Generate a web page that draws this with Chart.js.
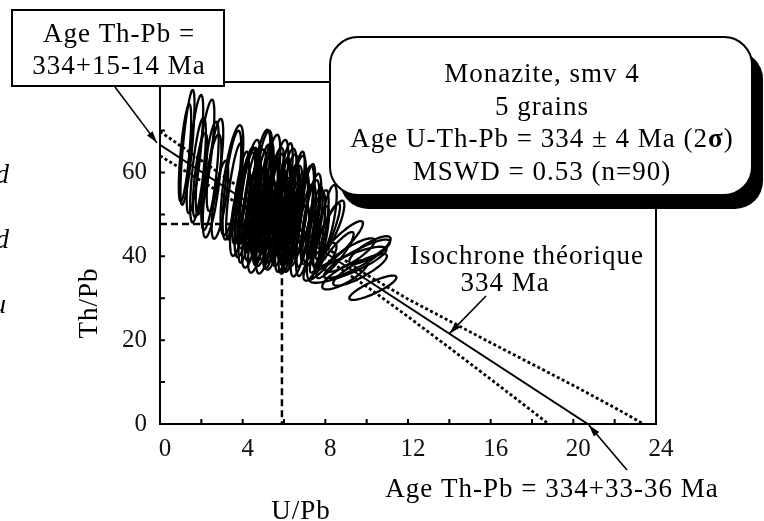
<!DOCTYPE html>
<html lang="fr">
<head>
<meta charset="UTF-8">
<title>Monazite smv 4 - Th/Pb vs U/Pb</title>
<script src="https://cdn.jsdelivr.net/npm/chart.js"></script>
<style>
    body { margin: 0; background: #fff; }
    #wrap { width: 764px; height: 521px; }
</style>
</head>
<body>
<div id="wrap"><canvas id="iso" width="764" height="521"></canvas></div>
<script>
// spot analyses: centre of each 2 sigma ellipse, half widths and correlation
const grainU = [
    1.33, 1.69, 2.18, 1.84, 2.42, 3.48, 4.16, 2.52, 1.21, 2.90, 1.94, 2.66,
    3.48, 4.93, 5.32, 6.19, 7.06, 7.55, 4.11, 4.98, 6.29, 6.43, 7.35, 8.13,
    4.35, 4.64, 4.93, 5.22, 5.52, 5.81, 6.10, 6.39, 6.68, 6.97, 4.60, 5.08,
    5.56, 6.05, 4.84, 4.26, 5.32, 5.90, 6.58, 7.26, 3.87, 4.45, 5.13, 6.77,
    7.74, 5.71, 6.19, 4.74,
    4.50, 4.80, 5.00, 5.30, 5.50, 5.70, 5.90, 6.10, 6.30, 6.50, 6.80, 7.00,
    4.20, 4.40, 5.10, 5.60, 6.00, 6.60, 7.10, 7.50, 3.90, 4.90, 5.40, 6.40,
    7.80, 3.60,
    7.98, 8.71, 9.53, 9.10, 10.30, 10.16, 9.19, 8.47, 8.22, 9.68, 8.95, 7.74
];
const grainTh = [
    66.0, 64.4, 63.7, 60.6, 59.2, 58.2, 54.4, 56.8, 64.7, 53.5, 59.4, 61.8,
    57.0, 57.0, 56.3, 52.3, 46.3, 44.9, 52.3, 51.6, 49.2, 47.3, 49.2, 49.0,
    55.8, 53.5, 54.7, 52.3, 53.9, 51.1, 54.7, 50.6, 48.2, 51.1, 49.9, 48.2,
    46.8, 45.8, 58.2, 53.9, 49.9, 48.2, 53.5, 48.2, 51.1, 46.8, 44.4, 43.7,
    46.8, 55.8, 43.9, 45.1,
    52.0, 50.5, 53.0, 51.0, 48.5, 50.0, 52.5, 49.0, 51.5, 47.5, 49.5, 47.0,
    49.0, 54.5, 56.0, 54.0, 56.5, 55.0, 52.5, 48.0, 54.0, 47.0, 45.5, 45.0,
    44.5, 55.5,
    44.4, 43.0, 39.4, 38.0, 32.5, 41.5, 40.3, 40.3, 46.3, 36.8, 35.6, 38.7
];
const errU = [
    0.34, 0.40, 0.45, 0.38, 0.42, 0.55, 0.50, 0.45, 0.30, 0.40, 0.35, 0.40,
    0.45, 0.50, 0.50, 0.50, 0.48, 0.45, 0.50, 0.50, 0.50, 0.48, 0.45, 0.42,
    0.50, 0.50, 0.50, 0.50, 0.50, 0.50, 0.50, 0.50, 0.48, 0.48, 0.50, 0.50,
    0.50, 0.48, 0.50, 0.50, 0.50, 0.50, 0.48, 0.45, 0.48, 0.48, 0.48, 0.45,
    0.42, 0.50, 0.45, 0.48,
    0.40, 0.40, 0.42, 0.40, 0.40, 0.42, 0.40, 0.40, 0.42, 0.40, 0.40, 0.40,
    0.40, 0.42, 0.40, 0.40, 0.42, 0.40, 0.40, 0.38, 0.40, 0.40, 0.40, 0.40,
    0.38, 0.40,
    0.73, 1.11, 1.60, 1.86, 1.14, 1.00, 1.20, 0.90, 0.70, 1.30, 1.10, 0.80
];
const errTh = [
    13.7, 14.1, 13.7, 12.5, 12.9, 13.1, 11.6, 12.3, 11.6, 9.3, 10.0, 11.0,
    13.0, 13.0, 12.7, 12.0, 11.0, 10.5, 12.5, 12.5, 11.5, 11.0, 10.5, 8.0,
    12.0, 12.0, 12.0, 11.5, 12.0, 11.5, 11.0, 11.0, 10.5, 10.5, 11.0, 10.5,
    10.0, 9.5, 12.0, 12.0, 11.0, 10.5, 10.5, 10.0, 11.0, 9.5, 8.5, 8.5,
    9.0, 12.0, 8.0, 9.0,
    11.0, 10.5, 11.0, 10.5, 10.0, 10.5, 11.0, 10.0, 10.5, 9.5, 10.0, 9.5,
    10.5, 11.0, 11.0, 10.5, 10.5, 10.0, 9.5, 8.5, 11.0, 9.0, 8.5, 8.5,
    7.5, 11.5,
    8.3, 5.4, 4.6, 4.3, 2.9, 3.3, 4.0, 5.5, 7.0, 3.8, 3.5, 4.5
];
const errRho = [
    0.75, 0.75, 0.75, 0.70, 0.70, 0.70, 0.70, 0.70, 0.70, 0.70, 0.70, 0.70,
    0.70, 0.70, 0.70, 0.70, 0.70, 0.70, 0.70, 0.70, 0.70, 0.70, 0.70, 0.70,
    0.70, 0.70, 0.70, 0.70, 0.70, 0.70, 0.70, 0.70, 0.70, 0.70, 0.70, 0.70,
    0.70, 0.70, 0.70, 0.70, 0.70, 0.70, 0.70, 0.70, 0.70, 0.70, 0.70, 0.70,
    0.70, 0.70, 0.70, 0.70,
    0.75, 0.75, 0.75, 0.75, 0.75, 0.75, 0.75, 0.75, 0.75, 0.75, 0.75, 0.75,
    0.75, 0.75, 0.75, 0.75, 0.75, 0.75, 0.75, 0.75, 0.75, 0.75, 0.75, 0.75,
    0.75, 0.75,
    0.90, 0.90, 0.88, 0.85, 0.85, 0.80, 0.85, 0.90, 0.85, 0.85, 0.80, 0.80
];

// theoretical 334 Ma isochron and envelope
const isoU = [0, 20.7];
const isoTh = [66.6, 0];
const envHighU = [0, 2, 4, 6, 8, 10, 12, 14, 16, 18, 20, 22, 23.4];
const envHighTh = [69.8, 62.9, 55.9, 49.0, 42.2, 35.6, 29.8, 24.6, 19.4, 14.3, 9.2, 3.9, 0];
const envLowU = [0, 2, 4, 6, 8, 10, 12, 14, 16, 18, 18.8];
const envLowTh = [64.0, 58.0, 51.9, 45.8, 39.5, 32.8, 25.6, 18.2, 10.7, 3.1, 0];
// centroid guide lines
const guideU = [0, 5.9, 5.9];
const guideTh = [47.7, 47.7, 0];

const xLabels = [0, 4, 8, 12, 16, 20, 24];
const yLabels = [0, 20, 40, 60];

const SERIF = "'Liberation Serif', 'Times New Roman', serif";
Chart.defaults.font.family = SERIF;
Chart.defaults.font.size = 25;
Chart.defaults.color = '#111';

const pts = (xs, ys) => xs.map((v, i) => ({ x: v, y: ys[i] }));

const ellipses = {
    id: 'ellipses',
    afterDatasetsDraw(chart) {
        const { ctx, chartArea: a, scales: { x, y } } = chart;
        ctx.save();
        ctx.beginPath();
        ctx.rect(a.left, a.top, a.right - a.left, a.bottom - a.top);
        ctx.clip();
        ctx.lineWidth = 2.3;
        ctx.strokeStyle = '#000';
        grainU.forEach((u, i) => {
            const r = errRho[i], k = Math.sqrt(1 - r * r);
            ctx.beginPath();
            for (let s = 0; s <= 72; s++) {
                const t = s / 72 * 2 * Math.PI;
                const px = x.getPixelForValue(u + errU[i] * Math.cos(t));
                const py = y.getPixelForValue(grainTh[i] + errTh[i] * (r * Math.cos(t) + k * Math.sin(t)));
                if (s === 0) ctx.moveTo(px, py); else ctx.lineTo(px, py);
            }
            ctx.closePath();
            ctx.stroke();
        });
        ctx.restore();
    }
};

function roundBox(ctx, x, y, w, h, r) {
    ctx.beginPath();
    ctx.moveTo(x + r, y);
    ctx.arcTo(x + w, y, x + w, y + h, r);
    ctx.arcTo(x + w, y + h, x, y + h, r);
    ctx.arcTo(x, y + h, x, y, r);
    ctx.arcTo(x, y, x + w, y, r);
    ctx.closePath();
}

function arrow(ctx, x0, y0, x1, y1) {
    ctx.beginPath();
    ctx.moveTo(x0, y0);
    ctx.lineTo(x1, y1);
    ctx.stroke();
    const a = Math.atan2(y1 - y0, x1 - x0), L = 12, W = 3.5;
    ctx.beginPath();
    ctx.moveTo(x1, y1);
    ctx.lineTo(x1 - L * Math.cos(a) + W * Math.sin(a), y1 - L * Math.sin(a) - W * Math.cos(a));
    ctx.lineTo(x1 - L * Math.cos(a) - W * Math.sin(a), y1 - L * Math.sin(a) + W * Math.cos(a));
    ctx.closePath();
    ctx.fill();
}

function text(ctx, s, x, y, style) {
    ctx.font = (style || '') + ' 27px ' + SERIF;
    ctx.letterSpacing = '1px';
    ctx.textAlign = 'center';
    ctx.fillText(s, x, y);
}

const decor = {
    id: 'decor',
    afterDraw(chart) {
        const { ctx, chartArea: a, scales: { x, y } } = chart;
        ctx.save();
        ctx.strokeStyle = '#000';
        ctx.fillStyle = '#000';

        // frame and inward ticks
        ctx.lineWidth = 2;
        ctx.strokeRect(a.left, a.top, a.right - a.left, a.bottom - a.top);
        ctx.beginPath();
        x.ticks.forEach(t => {
            if (t.value % 2 !== 0) return;
            const px = x.getPixelForValue(t.value);
            ctx.moveTo(px, a.bottom);
            ctx.lineTo(px, a.bottom - 5);
        });
        y.ticks.forEach(t => {
            if (t.value % 10 !== 0) return;
            const py = y.getPixelForValue(t.value);
            ctx.moveTo(a.left, py);
            ctx.lineTo(a.left + 5, py);
        });
        ctx.stroke();

        // result box with heavy shadow
        roundBox(ctx, 340, 51, 423, 158, 28);
        ctx.fill();
        roundBox(ctx, 330, 37, 422, 158, 28);
        ctx.fillStyle = '#fff';
        ctx.fill();
        ctx.lineWidth = 2;
        ctx.stroke();

        // Th-Pb intercept box
        ctx.fillRect(12, 10, 212, 76);
        ctx.strokeRect(12, 10, 212, 76);

        // arrows to the intercepts and isochron
        ctx.fillStyle = '#000';
        ctx.lineWidth = 1.6;
        arrow(ctx, 115, 87, x.getPixelForValue(isoU[0]) - 3, y.getPixelForValue(isoTh[0]) - 2);
        arrow(ctx, 627, 470, x.getPixelForValue(isoU[1]) + 1, y.getPixelForValue(isoTh[1]) + 1);
        const mid = 14;
        const midTh = isoTh[0] + (isoTh[1] - isoTh[0]) * mid / isoU[1];
        arrow(ctx, 486, 296, x.getPixelForValue(mid), y.getPixelForValue(midTh));

        ctx.textBaseline = 'alphabetic';
        text(ctx, 'Age Th-Pb =', 119, 42);
        text(ctx, '334+15-14 Ma', 119, 74);

        text(ctx, 'Monazite, smv 4', 542, 82);
        text(ctx, '5 grains', 542, 115);
        // line with bold sigma
        const runs = [['Age U-Th-Pb = 334 \u00b1 4 Ma (2', ''], ['\u03c3', 'bold'], [')', '']];
        ctx.letterSpacing = '1px';
        let total = 0;
        runs.forEach(r => { ctx.font = r[1] + ' 27px ' + SERIF; total += ctx.measureText(r[0]).width; });
        let cx = 542 - total / 2;
        ctx.textAlign = 'left';
        runs.forEach(r => {
            ctx.font = r[1] + ' 27px ' + SERIF;
            ctx.fillText(r[0], cx, 147);
            cx += ctx.measureText(r[0]).width;
        });
        text(ctx, 'MSWD = 0.53 (n=90)', 542, 180);

        text(ctx, 'Isochrone th\u00e9orique', 527, 264);
        text(ctx, '334 Ma', 505, 291);
        text(ctx, 'Age Th-Pb = 334+33-36 Ma', 552, 497);

        // axis titles
        text(ctx, 'U/Pb', 301, 519);
        ctx.save();
        ctx.translate(97, 303);
        ctx.rotate(-Math.PI / 2);
        text(ctx, 'Th/Pb', 0, 0);
        ctx.restore();

        // clipped words at the left edge
        ctx.font = 'italic 27px ' + SERIF;
        ctx.letterSpacing = '0px';
        ctx.textAlign = 'right';
        ctx.fillText('d', 9, 183);
        ctx.fillText('d', 9, 248);
        ctx.fillText('u', 6, 313);
        ctx.restore();
    }
};

new Chart(document.getElementById('iso'), {
    type: 'scatter',
    data: {
        datasets: [
            { data: pts(guideU, guideTh), showLine: true, borderColor: '#000', borderWidth: 2.5, borderDash: [7, 4], pointRadius: 0 },
            { data: pts(isoU, isoTh), showLine: true, borderColor: '#000', borderWidth: 2, pointRadius: 0 },
            { data: pts(envHighU, envHighTh), showLine: true, borderColor: '#000', borderWidth: 2.8, borderDash: [3, 2.5], pointRadius: 0 },
            { data: pts(envLowU, envLowTh), showLine: true, borderColor: '#000', borderWidth: 2.8, borderDash: [3, 2.5], pointRadius: 0 }
        ]
    },
    options: {
        responsive: false,
        animation: false,
        devicePixelRatio: 1,
        layout: { padding: { left: 0, top: 82, right: 108, bottom: 0 } },
        plugins: { legend: { display: false }, tooltip: { enabled: false } },
        scales: {
            x: {
                min: 0, max: 24,
                grid: { display: false, drawTicks: false },
                border: { display: false },
                ticks: {
                    stepSize: 2, autoSkip: false, maxRotation: 0, padding: 10, labelOffset: 5,
                    callback: v => xLabels.includes(v) ? String(v) : ''
                },
                afterFit: s => { s.height = 97; }
            },
            y: {
                min: 0, max: 81.6,
                grid: { display: false, drawTicks: false },
                border: { display: false },
                ticks: {
                    stepSize: 10, autoSkip: false, padding: 13,
                    callback: v => yLabels.includes(v) ? String(v) : ''
                },
                afterFit: s => { s.width = 160; }
            }
        }
    },
    plugins: [ellipses, decor]
});
</script>
</body>
</html>
